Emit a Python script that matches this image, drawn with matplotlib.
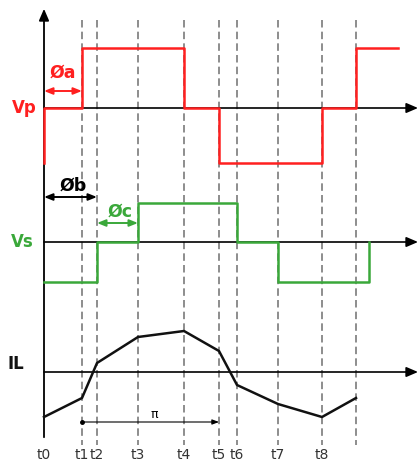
import matplotlib.pyplot as plt

# switching instants (time units, t0 = 0) ; last one is unlabeled
t_names = ["t0", "t1", "t2", "t3", "t4", "t5", "t6", "t7", "t8", ""]
t_vals = [0, 38, 53, 94, 140, 175, 193, 234, 278, 312]

# primary voltage Vp (step levels at each instant)
vp_t = [0, 0, 38, 38, 140, 140, 175, 175, 278, 278, 312, 312, 354]
vp_v = [-55, 0, 0, 60, 60, 0, 0, -55, -55, 0, 0, 60, 60]

# secondary voltage Vs
vs_t = [0, 53, 53, 94, 94, 193, 193, 234, 234, 325, 325]
vs_v = [-40, -40, 0, 0, 39, 39, 0, 0, -40, -40, 0]

# inductor current IL at each instant
il_v = [-45, -26, 9, 35, 41, 21, -13, -32, -45, -26]

red = "#ff2020"
green = "#3aa83a"

fig = plt.figure(figsize=(4.19, 4.66), dpi=100)
ax = fig.add_axes([0, 0, 1, 1])
ax.set_xlim(0, 419)
ax.set_ylim(466, 0)
ax.axis("off")

x0 = 44
base_vp, base_vs, base_il = 108, 242, 372

def X(vals):
    return [x0 + v for v in vals]

def Y(vals, base):
    return [base - v for v in vals]

# dashed guides
for t in t_vals[1:]:
    ax.plot([x0 + t, x0 + t], [20, 445], color="#7a7a7a", lw=1.2,
            ls=(0, (4.5, 2.5)), zorder=1)

# vertical axis
ax.annotate("", xy=(x0, 6), xytext=(x0, 440),
            arrowprops=dict(arrowstyle="-|>,head_length=0.7,head_width=0.3",
                            color="black", lw=1.3))
# horizontal axes
for b in (base_vp, base_vs, base_il):
    ax.annotate("", xy=(418, b), xytext=(x0, b),
                arrowprops=dict(arrowstyle="-|>,head_length=0.7,head_width=0.3",
                                color="black", lw=1.2, shrinkA=0, shrinkB=0))

ax.plot(X(vp_t), Y(vp_v, base_vp), color=red, lw=1.8, zorder=3)
ax.plot(X(vs_t), Y(vs_v, base_vs), color=green, lw=1.8, zorder=3)
ax.plot(X(t_vals), Y(il_v, base_il), color="#111111", lw=1.8, zorder=3)

# labels
ax.text(24, base_vp, "Vp", color=red, fontsize=12, fontweight="bold",
        ha="center", va="center")
ax.text(22, base_vs, "Vs", color=green, fontsize=12, fontweight="bold",
        ha="center", va="center")
ax.text(16, 364, "IL", color="#111111", fontsize=12, fontweight="bold",
        ha="center", va="center")

# phase arrows
def dbl(xa, xb, y, c):
    ax.annotate("", xy=(xb, y), xytext=(xa, y),
                arrowprops=dict(arrowstyle="<|-|>,head_length=0.5,head_width=0.2",
                                color=c, lw=1.4, shrinkA=0, shrinkB=0))

dbl(x0, x0 + t_vals[1], 91, red)
ax.text(63, 73, "Øa", color=red, fontsize=12.5, fontweight="bold",
        ha="center", va="center")
dbl(x0, x0 + t_vals[2], 197, "black")
ax.text(73, 186, "Øb", color="black", fontsize=12.5, fontweight="bold",
        ha="center", va="center")
dbl(x0 + t_vals[2], x0 + t_vals[3], 223, green)
ax.text(120, 212, "Øc", color=green, fontsize=12.5, fontweight="bold",
        ha="center", va="center")

# pi half-period marker
ax.plot([x0 + t_vals[1]], [422], marker="o", ms=2.5, color="black")
ax.annotate("", xy=(x0 + t_vals[5], 422), xytext=(x0 + t_vals[1], 422),
            arrowprops=dict(arrowstyle="-|>,head_length=0.4,head_width=0.15",
                            color="black", lw=0.8, shrinkA=0, shrinkB=0))
ax.text(154, 414, "π", fontsize=9, ha="center", va="center")

# time labels
for name, t in zip(t_names, t_vals):
    if name:
        ax.text(x0 + t, 455, name, fontsize=10, color="#333333",
                ha="center", va="center")

fig.savefig("out.png", dpi=100)
